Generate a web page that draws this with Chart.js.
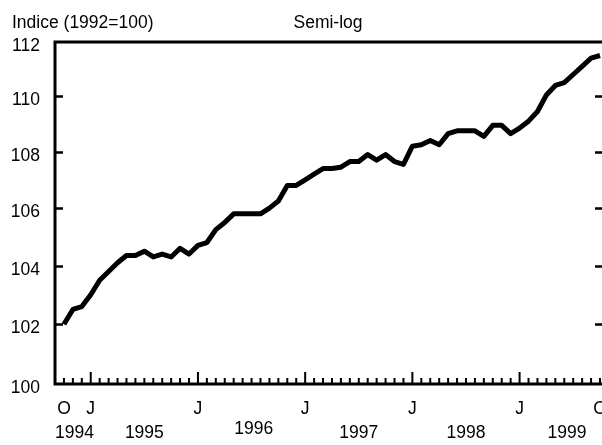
<!DOCTYPE html>
<html>
<head>
<meta charset="utf-8">
<script src="https://cdn.jsdelivr.net/npm/chart.js@4/dist/chart.umd.min.js"></script>
<style>
  html, body { margin: 0; padding: 0; background: #fff; }
  #wrap { width: 602px; height: 445px; position: relative; }
</style>
</head>
<body>
<div id="wrap"><canvas id="chart"></canvas></div>
<script>
// monthly index, Oct 1994 .. Oct 1999 (1992=100)
const values = [
  102.0, 102.5, 102.6, 103.0, 103.5, 103.8, 104.1, 104.35, 104.35, 104.5,
  104.3, 104.4, 104.3, 104.6, 104.4, 104.7, 104.8, 105.25, 105.5, 105.8,
  105.8, 105.8, 105.8, 106.0, 106.25, 106.8, 106.8, 107.0, 107.2, 107.4,
  107.4, 107.45, 107.65, 107.65, 107.9, 107.7, 107.9, 107.65, 107.55, 108.2,
  108.25, 108.4, 108.25, 108.65, 108.75, 108.75, 108.75, 108.55, 108.95, 108.95,
  108.65, 108.85, 109.1, 109.45, 110.05, 110.4, 110.5, 110.8, 111.1, 111.4, 111.5
];

const monthLetters = ['J','F','M','A','M','J','J','A','S','O','N','D'];
// categories: Sep 1994 (empty slot at the axis) to Oct 1999
const categories = [];
for (let y = 1994, m = 8; y < 1999 || m <= 9; ) {
  categories.push(monthLetters[m] + ' ' + y);
  m++;
  if (m > 11) { m = 0; y++; }
}
const seriesData = [null].concat(values);

const yTicks = [100, 102, 104, 106, 108, 110, 112];
// month-letter labels under the axis: [category index, text]
const monthTickLabels = [[1, 'O'], [4, 'J'], [16, 'J'], [28, 'J'], [40, 'J'], [52, 'J'], [61, 'O']];
// year labels: [category index, text]
const yearLabels = [[1, '1994'], [10, '1995'], [22.25, '1996'], [34, '1997'], [46, '1998'], [57.3, '1999']];

const FONT = '17.5px "Liberation Sans", Arial, sans-serif';

const axesPlugin = {
  id: 'axesPlugin',
  afterDatasetsDraw(chart) {
    const { ctx, chartArea: a, scales: { x, y } } = chart;
    ctx.save();
    ctx.strokeStyle = '#000';
    ctx.fillStyle = '#000';
    ctx.lineCap = 'butt';

    // frame: left, top, bottom
    ctx.lineWidth = 3;
    ctx.beginPath();
    ctx.moveTo(a.left, a.top - 1.5);
    ctx.lineTo(a.left, a.bottom + 1.5);
    ctx.moveTo(a.left - 1.5, a.top);
    ctx.lineTo(chart.width, a.top);
    ctx.moveTo(a.left - 1.5, a.bottom);
    ctx.lineTo(chart.width, a.bottom);
    ctx.stroke();

    // y ticks, inward on both sides
    ctx.lineWidth = 2.5;
    ctx.beginPath();
    yTicks.forEach(v => {
      if (v === 100 || v === 112) return;
      const py = Math.round(y.getPixelForValue(v)) + 0.5;
      ctx.moveTo(a.left, py);
      ctx.lineTo(a.left + 8, py);
      ctx.moveTo(chart.width - 7, py);
      ctx.lineTo(chart.width, py);
    });
    ctx.stroke();

    // month ticks, January taller
    ctx.lineWidth = 2;
    ctx.beginPath();
    categories.forEach((c, i) => {
      if (i === 0) return;
      const px = x.getPixelForValue(i);
      const isJan = c[0] === 'J' && categories[i - 1][0] === 'D';
      ctx.moveTo(px, a.bottom);
      ctx.lineTo(px, a.bottom - (isJan ? 12 : 6));
    });
    ctx.stroke();

    ctx.font = FONT;
    ctx.textBaseline = 'alphabetic';

    // y labels
    ctx.textAlign = 'right';
    yTicks.forEach(v => {
      ctx.fillText(String(v), 40, y.getPixelForValue(v) + 9);
    });

    // x labels
    ctx.textAlign = 'center';
    monthTickLabels.forEach(([i, t]) => ctx.fillText(t, x.getPixelForValue(i), 414));
    yearLabels.forEach(([i, t]) => {
      const px = x.getPixelForValue(i);
      if (t === '1994') {
        ctx.textAlign = 'left';
        ctx.fillText(t, px - 9, 438);
        ctx.textAlign = 'center';
      } else {
        ctx.fillText(t, px, t === '1996' ? 434 : 438);
      }
    });

    // titles
    ctx.textAlign = 'left';
    ctx.fillText('Indice (1992=100)', 12, 28);
    ctx.textAlign = 'center';
    ctx.fillText('Semi-log', 328, 28);
    ctx.restore();
  }
};

new Chart(document.getElementById('chart'), {
  type: 'line',
  data: {
    labels: categories,
    datasets: [{
      data: seriesData,
      borderColor: '#000',
      borderWidth: 5,
      borderJoinStyle: 'round',
      pointRadius: 0,
      tension: 0,
      fill: false,
      clip: false,
    }]
  },
  options: {
    responsive: true,
    maintainAspectRatio: false,
    animation: false,
    layout: { padding: { left: 55, top: 42, right: 2, bottom: 61 } },
    plugins: { legend: { display: false }, tooltip: { enabled: false } },
    scales: {
      x: { type: 'category', display: false, offset: false },
      y: { type: 'logarithmic', display: false, min: 100, max: 112 },
    }
  },
  plugins: [axesPlugin]
});
</script>
</body>
</html>
